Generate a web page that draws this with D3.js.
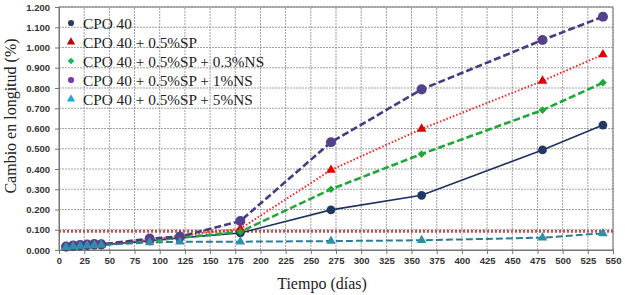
<!DOCTYPE html>
<html lang="es">
<head>
    <meta charset="utf-8">
    <title>Cambio en longitud</title>
    <script src="https://d3js.org/d3.v7.min.js"></script>
    <style>
        body {
            margin: 0;
            background: white;
        }
        .tick text {
            font-family: "Liberation Sans", Arial, sans-serif;
            font-weight: bold;
            font-size: 9.5px;
            fill: #333;
        }
        .serif {
            font-family: "Liberation Serif", "Times New Roman", serif;
            fill: #222;
        }
    </style>
</head>
<body>
<script>

    var w = 625;
    var h = 295;
    var margin = {left: 59, right: 12, top: 7, bottom: 45};

    // data
    var days = [7, 14, 21, 28, 35, 42, 90, 120, 180, 270, 360, 480, 540];
    var cpo40 = [0.015, 0.018, 0.020, 0.022, 0.024, 0.025, 0.045, 0.060, 0.084, 0.198, 0.270, 0.494, 0.617];
    var sp05 = [0.016, 0.020, 0.022, 0.024, 0.026, 0.027, 0.050, 0.070, 0.105, 0.395, 0.598, 0.835, 0.965];
    var ns03 = [0.015, 0.019, 0.021, 0.023, 0.025, 0.026, 0.045, 0.060, 0.090, 0.300, 0.474, 0.691, 0.826];
    var ns1 = [0.017, 0.022, 0.025, 0.027, 0.029, 0.028, 0.056, 0.066, 0.143, 0.532, 0.793, 1.037, 1.152];
    var ns5 = [0.014, 0.018, 0.020, 0.022, 0.024, 0.025, 0.037, 0.041, 0.041, 0.044, 0.048, 0.061, 0.082];
    var limit = 0.092;

    var xTicks = d3.range(0, 551, 25);
    var yTicks = d3.range(0, 1.2001, 0.1);

    var series = [
        {name: "CPO 40", values: cpo40, line: "#1f3160", fill: "#1f3864", legend: "#243f60", shape: d3.symbolCircle, rot: 0, size: 60, width: 1.6, dash: null},
        {name: "CPO 40 + 0.5%SP", values: sp05, line: "#ff2020", fill: "#e00000", legend: "#c00000", shape: d3.symbolTriangle, rot: 0, size: 40, width: 2, dash: "1.5,2"},
        {name: "CPO 40 + 0.5%SP + 0.3%NS", values: ns03, line: "#1fa83a", fill: "#1fa83a", legend: "#10b860", shape: d3.symbolSquare, rot: 45, size: 30, width: 2.6, dash: "7,3"},
        {name: "CPO 40 + 0.5%SP + 1%NS", values: ns1, line: "#4a3a80", fill: "#55408c", legend: "#7a3ab0", shape: d3.symbolCircle, rot: 0, size: 80, width: 2.6, dash: "7,3"},
        {name: "CPO 40 + 0.5%SP + 5%NS", values: ns5, line: "#2a7f96", fill: "#2f8fa8", legend: "#26a6dc", shape: d3.symbolTriangle, rot: 0, size: 40, width: 2, dash: "7,3"}
    ];

    var xScale = d3.scaleLinear()
        .domain([0, 550])
        .range([margin.left, w - margin.right]);

    var yScale = d3.scaleLinear()
        .domain([0, 1.2])
        .range([h - margin.bottom, margin.top]);

    var svg = d3.select("body")
        .append("svg")
        .attr("width", w)
        .attr("height", h);

    //grid lines
    svg.append("g")
        .selectAll("line.v")
        .data(xTicks.slice(1))
        .enter()
        .append("line")
        .attr("x1", function(d){ return xScale(d); })
        .attr("x2", function(d){ return xScale(d); })
        .attr("y1", yScale(0))
        .attr("y2", yScale(1.2))
        .attr("stroke", "#888")
        .attr("stroke-width", 0.8)
        .attr("stroke-dasharray", "2,1");

    svg.append("g")
        .selectAll("line.h")
        .data(yTicks.slice(1))
        .enter()
        .append("line")
        .attr("x1", xScale(0))
        .attr("x2", xScale(550))
        .attr("y1", function(d){ return yScale(d); })
        .attr("y2", function(d){ return yScale(d); })
        .attr("stroke", "#888")
        .attr("stroke-width", 0.8)
        .attr("stroke-dasharray", "2,1");

    //frame
    svg.append("rect")
        .attr("x", xScale(0))
        .attr("y", yScale(1.2))
        .attr("width", xScale(550) - xScale(0))
        .attr("height", yScale(0) - yScale(1.2))
        .attr("fill", "none")
        .attr("stroke", "#777")
        .attr("stroke-width", 1);

    //axes
    var xAxis = d3.axisBottom(xScale).tickValues(xTicks).tickSize(4).tickPadding(3);
    var yAxis = d3.axisLeft(yScale).tickValues(yTicks).tickSize(4).tickPadding(5)
        .tickFormat(d3.format(".3f"));

    svg.append("g")
        .attr("transform", "translate(0," + yScale(0) + ")")
        .call(xAxis)
        .call(function(g){ g.selectAll("line, path").attr("stroke", "#777"); });

    svg.append("g")
        .attr("transform", "translate(" + xScale(0) + ",0)")
        .call(yAxis)
        .call(function(g){ g.selectAll("line, path").attr("stroke", "#777"); });

    //limit line
    svg.append("line")
        .attr("x1", xScale(0))
        .attr("x2", xScale(550))
        .attr("y1", yScale(limit))
        .attr("y2", yScale(limit))
        .attr("stroke", "#c0504d")
        .attr("stroke-width", 3)
        .attr("stroke-dasharray", "2,2");

    var line = d3.line()
        .x(function(d, i){ return xScale(days[i]); })
        .y(function(d){ return yScale(d); });

    //series lines then markers
    series.forEach(function(s){
        svg.append("path")
            .datum(s.values)
            .attr("d", line)
            .attr("fill", "none")
            .attr("stroke", s.line)
            .attr("stroke-width", s.width)
            .attr("stroke-dasharray", s.dash);
    });

    series.forEach(function(s){
        svg.append("g")
            .selectAll("path")
            .data(s.values)
            .enter()
            .append("path")
            .attr("transform", function(d, i){
                return "translate(" + xScale(days[i]) + "," + yScale(d) + ") rotate(" + s.rot + ")";
            })
            .attr("d", d3.symbol().type(s.shape).size(s.size))
            .attr("fill", s.fill);
    });

    //legend
    var legend = svg.append("g")
        .attr("transform", "translate(71,23)");

    series.forEach(function(s, i){
        legend.append("path")
            .attr("transform", "translate(0," + (i * 19) + ") rotate(" + s.rot + ")")
            .attr("d", d3.symbol().type(s.shape).size(s.rot ? 22 : 30))
            .attr("fill", s.legend);
        legend.append("text")
            .attr("class", "serif")
            .attr("x", 12)
            .attr("y", i * 19 + 5.5)
            .attr("font-size", "15.3px")
            .text(s.name);
    });

    //axis titles
    svg.append("text")
        .attr("class", "serif")
        .attr("transform", "translate(16," + 116 + ") rotate(-90)")
        .attr("text-anchor", "middle")
        .attr("font-size", "16px")
        .text("Cambio en longitud (%)");

    svg.append("text")
        .attr("class", "serif")
        .attr("x", 322)
        .attr("y", 289)
        .attr("text-anchor", "middle")
        .attr("font-size", "16px")
        .text("Tiempo (días)");

</script>
</body>
</html>
